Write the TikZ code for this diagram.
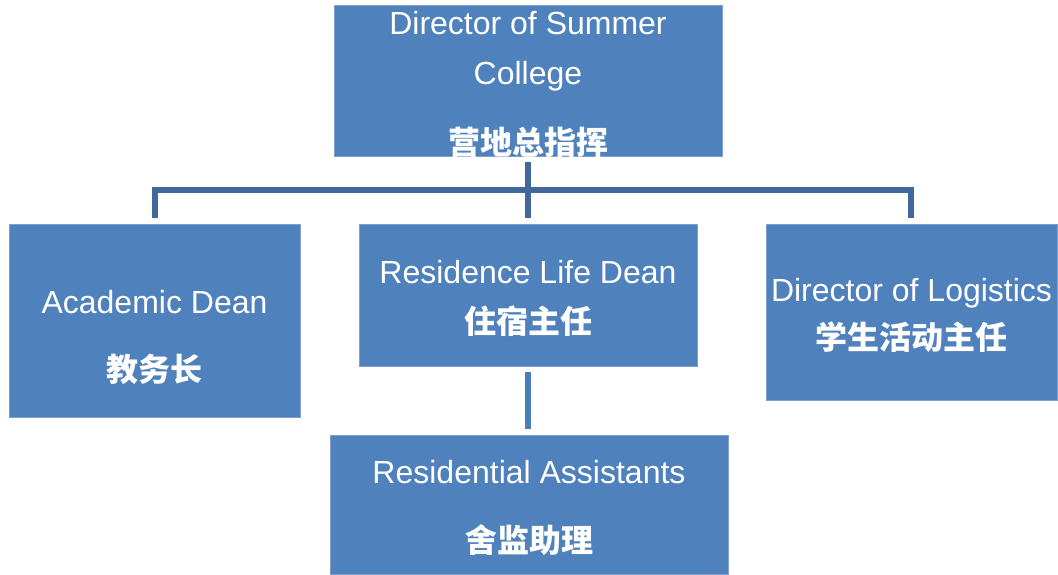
\documentclass[tikz,border=0pt]{standalone}
\usepackage{fontspec}
\setmainfont{Liberation Sans}
\newfontfamily\cjk{Noto Sans CJK SC}
\definecolor{boxblue}{HTML}{4F81BD}
\definecolor{boxedge}{HTML}{7FA0CC}
\definecolor{treeblue}{HTML}{40689A}
\definecolor{lowblue}{HTML}{4A7EBB}
\begin{document}
\begin{tikzpicture}[x=1pt,y=-1pt,
  box/.style={rectangle, fill=boxblue, draw=boxedge, line width=0.8pt, inner sep=0pt},
  txt/.style={text=white, align=center, inner sep=0pt, font=\fontsize{32}{50}\selectfont},
  conn/.style={draw=treeblue, line width=6pt, shorten <=6pt, shorten >=6pt},
  connlow/.style={draw=lowblue, line width=6pt, shorten <=6pt, shorten >=6pt}]
\useasboundingbox (0,0) rectangle (1058,574);
\node[box, minimum width=388pt, minimum height=151pt] (top) at (528,80.5) {};
\node[box, minimum width=291pt, minimum height=193pt] (acad) at (154.5,320.5) {};
\node[box, minimum width=338pt, minimum height=142pt] (res) at (528,295) {};
\node[box, minimum width=291pt, minimum height=176pt] (logi) at (911.5,312) {};
\node[box, minimum width=398pt, minimum height=139pt] (ra) at (529,504.5) {};
\node[txt] (toptxt) at (528,84.3) {Director of Summer\\College\\[20pt]{\cjk\bfseries 营地总指挥}};
\node[txt] (acadtxt) at (154.5,337) {Academic Dean\\[18pt]{\cjk\bfseries 教务长}};
\node[txt] (restxt) at (528,298) {Residence Life Dean\\{\cjk\bfseries 住宿主任}};
\node[txt] (logitxt) at (911.5,315) {Director of Logistics\\[-2pt]{\cjk\bfseries 学生活动主任}};
\node[txt] (ratxt) at (529,508) {Residential Assistants\\[19pt]{\cjk\bfseries 舍监助理}};
\draw[conn] (top.south) -- (res.north);
\draw[conn] (top.south) -- ([yshift=-34pt]top.south) -| (acad.north);
\draw[conn] (top.south) -- ([yshift=-34pt]top.south) -| ([xshift=-0.5pt]logi.north);
\draw[connlow] (res.south) -- (res.south |- ra.north);
\end{tikzpicture}
\end{document}
